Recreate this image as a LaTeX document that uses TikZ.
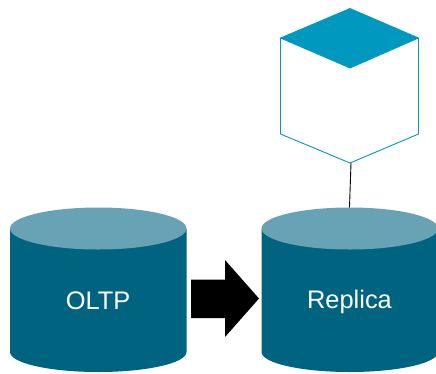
\documentclass[tikz,border=0pt]{standalone}
\usepackage{fontspec}
\setmainfont{Liberation Sans}
\definecolor{cylbody}{HTML}{00637F}
\definecolor{cyltop}{HTML}{67A3B5}
\definecolor{cubeblue}{HTML}{0098BF}
\tikzset{
  cylside/.style={fill=cylbody,draw=none},
  cyllid/.style={fill=cyltop,draw=none},
  cubeface/.style={fill=cubeblue,draw=cubeblue,line width=0.8pt,line join=miter},
  cubeedge/.style={draw=cubeblue,line width=0.9pt,fill=white,line join=miter},
  cyllabel/.style={text=white,font=\fontsize{25.4}{28}\selectfont,inner sep=0pt},
  link/.style={draw=black,line width=0.9pt}
}
\begin{document}
\begin{tikzpicture}[x=1pt,y=-1pt]
\useasboundingbox (0,0) rectangle (436,373);
% OLTP cylinder
\path[cylside] (10,229) -- (10,352) arc[start angle=180,end angle=0,x radius=88.25,y radius=20] -- (186.5,229) -- cycle;
\path[cyllid] (98.25,228.5) ellipse[x radius=88.25,y radius=21];
\node[cyllabel] (oltp) at (98.2,301) {OLTP};
% Replica cylinder
\path[cylside] (261.5,229) -- (261.5,352) arc[start angle=180,end angle=0,x radius=88.25,y radius=20] -- (438,229) -- cycle;
\path[cyllid] (349.75,228.5) ellipse[x radius=88.25,y radius=21];
\node[cyllabel] (replica) at (349.5,302) {Replica};
% Arrow
\fill[black] (191,279.5) -- (225,279.5) -- (225,260) -- (259,298.5) -- (225,337) -- (225,318) -- (191,318) -- cycle;
% Cube
\path[cubeedge] (280.5,38) -- (280.5,134) -- (350,163) -- (418.5,134) -- (418.5,38);
\path[cubeface] (350,8.5) -- (418.5,38) -- (350,68) -- (280.5,38) -- cycle;
% Connector
\coordinate (cubebottom) at (351,163);
\coordinate (replicatop) at (349.5,207.5);
\draw[link] (cubebottom) -- (replicatop);
\end{tikzpicture}
\end{document}
